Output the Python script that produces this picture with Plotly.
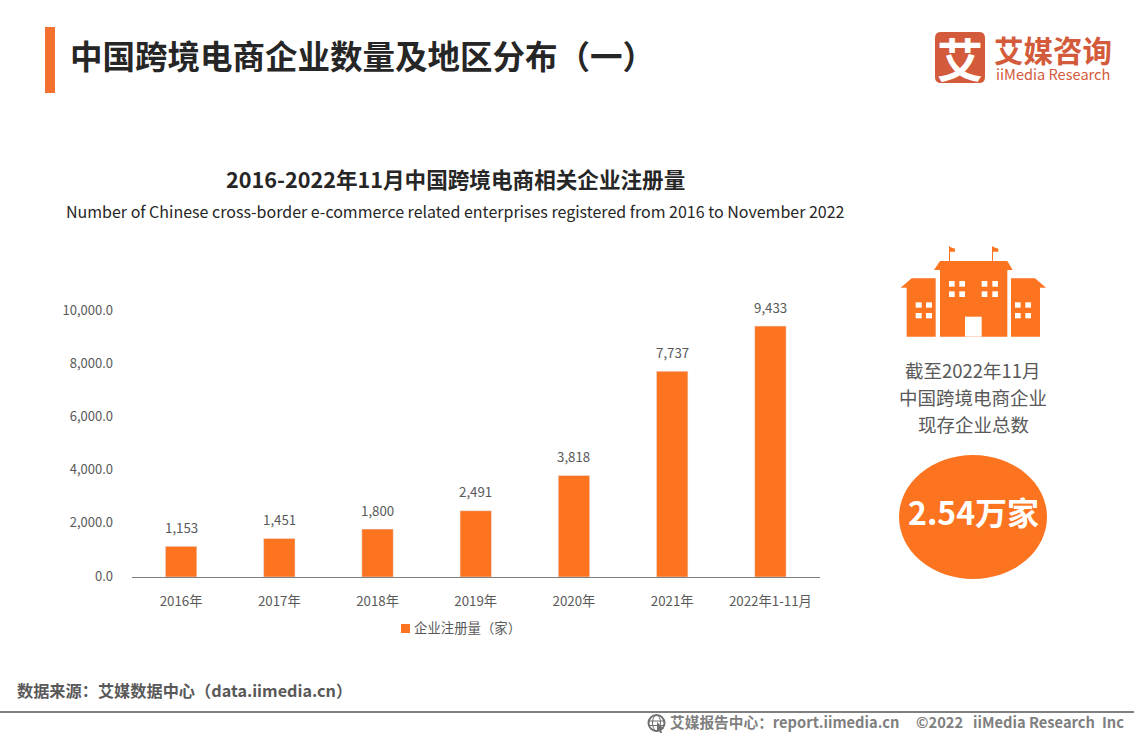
import plotly.graph_objects as go

W, H = 1134, 737
categories = ["2016年", "2017年", "2018年", "2019年", "2020年", "2021年", "2022年1-11月"]
registered = [1153, 1451, 1800, 2491, 3818, 7737, 9433]
y_ticks = [0, 2000, 4000, 6000, 8000, 10000]

ORANGE = "#FC7320"
RED = "#D35B3B"
CJK = "Noto Sans CJK SC"
GRAY = "#595959"


def fx(x):
    return x / W


def fy(y):
    return 1 - y / H


def note(x, y, text, size, color=GRAY, bold=False, anchor="center"):
    return dict(
        xref="paper", yref="paper", x=fx(x), y=fy(y), text=f"<b>{text}</b>" if bold else text,
        showarrow=False, xanchor=anchor, yanchor="middle",
        font=dict(family=CJK, size=size, color=color),
    )


def rect(x0, y0, x1, y1, color, layer="above"):
    return dict(type="rect", xref="paper", yref="paper", x0=fx(x0), x1=fx(x1), y0=fy(y1), y1=fy(y0),
                fillcolor=color, line_width=0, layer=layer)


def poly(points, color):
    d = "M" + " L".join(f"{fx(x):.5f},{fy(y):.5f}" for x, y in points) + " Z"
    return dict(type="path", xref="paper", yref="paper", path=d, fillcolor=color, line_width=0)


def icon(X, Y):
    return 880 + X / 3, 235 + Y / 3


def icon_rect(X0, Y0, X1, Y1, color):
    x0, y0 = icon(X0, Y0)
    x1, y1 = icon(X1, Y1)
    return rect(x0, y0, x1, y1, color)


def icon_poly(pts, color):
    return poly([icon(*p) for p in pts], color)


shapes = [
    rect(45, 27, 55, 93, "#F4702F"),
    # logo
    dict(type="path", xref="paper", yref="paper", fillcolor=RED, line_width=0,
         path=" ".join([
             f"M{fx(941):.5f},{fy(32):.5f}", f"L{fx(979):.5f},{fy(32):.5f}",
             f"Q{fx(985):.5f},{fy(32):.5f} {fx(985):.5f},{fy(38):.5f}",
             f"L{fx(985):.5f},{fy(77):.5f}",
             f"Q{fx(985):.5f},{fy(83):.5f} {fx(979):.5f},{fy(83):.5f}",
             f"L{fx(941):.5f},{fy(83):.5f}",
             f"Q{fx(935):.5f},{fy(83):.5f} {fx(935):.5f},{fy(77):.5f}",
             f"L{fx(935):.5f},{fy(38):.5f}",
             f"Q{fx(935):.5f},{fy(32):.5f} {fx(941):.5f},{fy(32):.5f} Z"])),
    # building
    icon_poly([(62, 158), (95, 130), (167, 130), (167, 305), (80, 305), (80, 158)], ORANGE),
    icon_poly([(162, 105), (180, 78), (382, 78), (398, 105), (382, 105), (382, 305), (180, 305), (180, 105)], ORANGE),
    icon_poly([(393, 130), (465, 130), (498, 158), (480, 158), (480, 305), (393, 305)], ORANGE),
    icon_rect(255, 245, 305, 305, "white"),
    icon_rect(207, 34, 210, 78, ORANGE),
    icon_poly([(208, 35), (225, 41), (225, 50), (208, 50)], ORANGE),
    icon_rect(336, 34, 339, 78, ORANGE),
    icon_poly([(338, 35), (355, 41), (355, 50), (338, 50)], ORANGE),
    # ellipse
    dict(type="circle", xref="paper", yref="paper", x0=fx(899), x1=fx(1047), y0=fy(579), y1=fy(455),
         fillcolor=ORANGE, line_width=0),
    # legend swatch
    rect(401, 624, 410, 633, ORANGE),
    # footer line
    rect(0, 711, W, 713, "#808080"),
    # globe
    dict(type="circle", xref="paper", yref="paper", x0=fx(648.5), x1=fx(664.5), y0=fy(731), y1=fy(715),
         line=dict(color="#6F6F6F", width=2)),
    dict(type="circle", xref="paper", yref="paper", x0=fx(652.5), x1=fx(660.5), y0=fy(731), y1=fy(715),
         line=dict(color="#6F6F6F", width=1)),
    rect(649, 720.5, 664, 721.5, "#6F6F6F"),
    rect(649, 725, 664, 726, "#6F6F6F"),
    poly([(657, 722), (664, 729), (661, 729), (662, 733), (660, 733), (659, 730), (657, 732)], "#6F6F6F"),
]

window_groups = [
    ((107, 125), (138, 156), (202, 218), (234, 250)),
    ((207, 224), (238, 255), (138, 155), (169, 186)),
    ((305, 322), (337, 354), (138, 155), (169, 186)),
    ((405, 422), (436, 453), (202, 218), (234, 250)),
]
for xa, xb, ya, yb in window_groups:
    for xs in (xa, xb):
        for ys in (ya, yb):
            shapes.append(icon_rect(xs[0], ys[0], xs[1], ys[1], "white"))

annotations = [
    note(68, 55, "中国跨境电商企业数量及地区分布（一）", 32.5, "#262626", True, "left"),
    note(960, 57, "艾", 46, "white", True),
    note(992, 49, "艾媒咨询", 29.5, RED, True, "left"),
    note(994, 74, "iiMedia Research", 14.6, RED, False, "left"),
    note(455.5, 178, "2016-2022年11月中国跨境电商相关企业注册量", 21.6, "#262626", True),
    note(455.5, 211, "Number of Chinese cross-border e-commerce related enterprises registered from 2016 to November 2022", 16, "#262626"),
    note(973, 370, "截至2022年11月", 18.5, GRAY),
    note(973, 397, "中国跨境电商企业", 18.5, GRAY),
    note(973, 424, "现存企业总数", 18.5, GRAY),
    note(973, 511, "2.54万家", 32, "white", True),
    note(412, 626.5, "企业注册量（家）", 13.4, GRAY, False, "left"),
    note(15, 690, "数据来源：艾媒数据中心（data.iimedia.cn）", 16.2, GRAY, True, "left"),
    note(668, 721.5, "艾媒报告中心：report.iimedia.cn", 14.7, "#7F7F7F", True, "left"),
    note(914, 721.5, "©2022", 14.7, "#7F7F7F", True, "left"),
    note(971, 721.5, "iiMedia Research", 14.7, "#7F7F7F", True, "left"),
    note(1126, 721.5, "Inc", 14.7, "#7F7F7F", True, "right"),
]
for c, v in zip(categories, registered):
    annotations.append(dict(xref="x", yref="y", x=c, y=v, yshift=19, text=f"{v:,}", showarrow=False,
                            xanchor="center", yanchor="middle",
                            font=dict(family=CJK, size=13.3, color=GRAY)))

fig = go.Figure(go.Bar(x=categories, y=registered, name="企业注册量（家）", marker_color=ORANGE,
                       width=0.32, showlegend=False, hoverinfo="x+y"))
fig.update_layout(
    width=W, height=H, margin=dict(l=0, r=0, t=0, b=0, autoexpand=False),
    paper_bgcolor="white", plot_bgcolor="white", showlegend=False,
    font=dict(family=CJK, size=13, color=GRAY),
    shapes=shapes, annotations=annotations,
    xaxis=dict(domain=[fx(132), fx(819.5)], type="category", showline=True, linecolor="#7F7F7F", linewidth=1,
               ticks="", showgrid=False, automargin=False, ticklabelstandoff=12,
               tickfont=dict(family=CJK, size=13.3, color=GRAY), zeroline=False),
    yaxis=dict(domain=[fy(577), fy(311)], range=[0, 10000], tickvals=y_ticks, tickformat=",.1f",
               showgrid=False, zeroline=False, ticks="", showline=False, automargin=False,
               ticklabelstandoff=18, ticklabelshift=-1, tickfont=dict(family=CJK, size=13, color=GRAY)),
)
fig.write_html("out.html", config={"displayModeBar": False},
               post_script="document.body.style.margin='0';document.body.style.overflow='hidden';")
